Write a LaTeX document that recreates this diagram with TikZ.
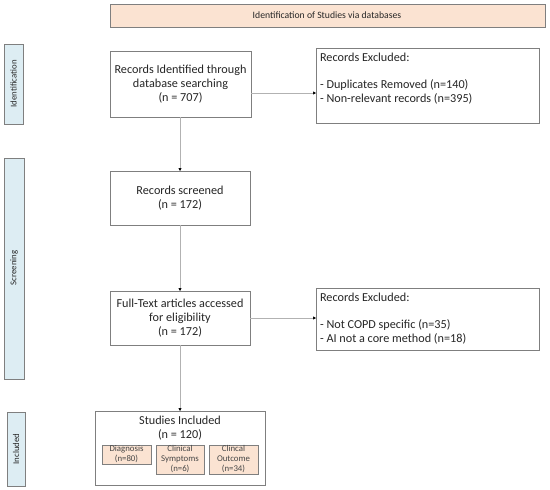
\documentclass[tikz,border=0pt]{standalone}
\usepackage{fontspec}
\setmainfont{Carlito}
\usetikzlibrary{arrows.meta}
\definecolor{peach}{HTML}{FBE3D2}
\definecolor{lblue}{HTML}{DDEDF3}
\definecolor{bord}{HTML}{7F7F7F}
\definecolor{txt}{HTML}{262626}
\begin{document}
\begin{tikzpicture}[x=1pt,y=-1pt,
  box/.style={draw=bord,line width=0.9pt,fill=white},
  band/.style={draw=bord,line width=1pt,fill=lblue},
  sub/.style={draw=bord,line width=0.8pt,fill=peach},
  conn/.style={draw=black!30,line width=0.6pt,-{Triangle[length=3pt,width=3pt,fill=black,color=black]}},
  mtext/.style={font=\fontsize{12.2}{14}\selectfont,text=txt,align=center},
  stext/.style={font=\fontsize{8.8}{10}\selectfont,text=txt!85,align=center},
  btext/.style={font=\fontsize{8.8}{9}\selectfont,text=txt,rotate=90}]
\useasboundingbox (0,0) rectangle (550,490);
% header
\draw[sub,line width=0.9pt] (110,4) rectangle (545,27);
\node[font=\fontsize{9.7}{11}\selectfont,text=txt] (hdr) at (327,15.5) {Identification of Studies via databases};
% bands
\draw[band] (4,44) rectangle (23,124);
\node[btext] (bid) at (13.5,84) {Identification};
\draw[band] (4,158) rectangle (24,379);
\node[btext] (bsc) at (14,268) {Screening};
\draw[band] (7,412) rectangle (25,486);
\node[btext] (bin) at (16,449) {Included};
% main boxes
\draw[box] (110,51) rectangle (251,117);
\node[mtext] (b1) at (180.5,84.5) {Records Identified through\\database searching\\(n = 707)};
\coordinate (b1r) at (251,93); \coordinate (b1b) at (180,117);
\draw[box] (316,48) rectangle (539,123);
\node[mtext,align=left,anchor=north west] (e1) at (316.5,49) {Records Excluded:\\[13pt]- Duplicates Removed (n=140)\\- Non-relevant records (n=395)};
\coordinate (e1l) at (316,93);
\draw[box] (110,171) rectangle (250,225);
\node[mtext] (b2) at (180,198) {Records screened\\(n = 172)};
\coordinate (b2t) at (180,171); \coordinate (b2b) at (180,225);
\draw[box] (110,291) rectangle (250,345);
\node[mtext] (b3) at (180,318) {Full-Text articles accessed\\for eligibility\\(n = 172)};
\coordinate (b3t) at (180,291); \coordinate (b3b) at (180,345); \coordinate (b3r) at (250,318);
\draw[box] (316,288) rectangle (539,350);
\node[mtext,align=left,anchor=north west] (e2) at (316.5,289) {Records Excluded:\\[13pt]- Not COPD specific (n=35)\\- AI not a core method (n=18)};
\coordinate (e2l) at (316,318);
\draw[box] (95,411) rectangle (265,485);
\node[mtext] (b4) at (180,428) {Studies Included\\(n = 120)};
\coordinate (b4t) at (180,411);
% sub boxes
\draw[sub] (102,445) rectangle (151,464);
\node[stext] (s1) at (126.5,454.5) {Diagnosis\\(n=80)};
\draw[sub] (156,445) rectangle (204,474);
\node[stext] (s2) at (180,459.5) {Clinical\\Symptoms\\(n=6)};
\draw[sub] (209,445) rectangle (258,474);
\node[stext] (s3) at (233.5,459.5) {Clincal\\Outcome\\(n=34)};
% connectors
\draw[conn] (b1r) -- (e1l);
\draw[conn] (b1b) -- (b2t);
\draw[conn] (b2b) -- (b3t);
\draw[conn] (b3r) -- (e2l);
\draw[conn] (b3b) -- (b4t);
\end{tikzpicture}
\end{document}
